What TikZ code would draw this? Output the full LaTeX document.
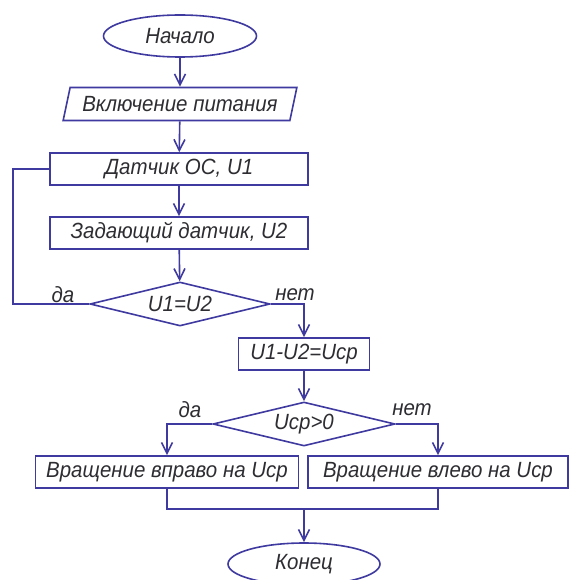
\documentclass[tikz,border=0pt]{standalone}
\usepackage{fontspec}
\setmainfont{Liberation Sans}[FakeStretch=0.93]
\usetikzlibrary{shapes.geometric,arrows.meta}
\definecolor{linecol}{RGB}{62,58,160}
\definecolor{textcol}{RGB}{45,45,50}
\begin{document}
\begin{tikzpicture}[x=1pt,y=-1pt]
    % Define styles
    \tikzstyle{every node} = [text=textcol, font=\fontsize{22}{25}\selectfont\itshape]
    \tikzstyle{terminal} = [ellipse, draw=linecol, line width=1.6pt, minimum width=153pt, minimum height=42pt, inner sep=0pt]
    \tikzstyle{io} = [trapezium, trapezium left angle=68, trapezium right angle=112, trapezium stretches=true,
                      draw=linecol, line width=1.6pt, minimum width=234pt, minimum height=33pt, inner sep=0pt]
    \tikzstyle{process} = [rectangle, draw=linecol, line width=1.6pt, minimum height=32pt, inner sep=0pt]
    \tikzstyle{decision} = [diamond, draw=linecol, line width=1.6pt, minimum width=180pt, minimum height=44pt, inner sep=0pt, aspect=4]
    \tikzstyle{line} = [draw=linecol, line width=1.6pt]
    \tikzstyle{arrow} = [line, -{Straight Barb[length=11pt,width=11pt]}]

    \fill[white] (0,0) rectangle (570,580);
    \clip (0,0) rectangle (570,580);

    % Nodes positioned absolutely
    \node[terminal] (start) at (180,36) {Начало};
    \node[io] (power) at (180,104) {Включение питания};
    \node[process, minimum width=258pt] (fbsensor) at (179,169) {Датчик ОС, U1};
    \node[process, minimum width=258pt] (refsensor) at (179,233) {Задающий датчик, U2};
    \node[decision] (equal) at (180,304) {U1=U2};
    \node[process, minimum width=131pt] (diff) at (304,354) {U1-U2=Ucp};
    \node[decision, minimum width=182pt] (sign) at (304,424) {Ucp>0};
    \node[process, minimum width=263pt] (right) at (167,472) {Вращение вправо на Ucp};
    \node[process, minimum width=260pt] (left) at (438,472) {Вращение влево на Ucp};
    \node[terminal, minimum width=152pt] (stop) at (304,564) {Конец};
    \coordinate (join) at (304,509);

    % Arrows
    \draw[arrow] (start) -- (power);
    \draw[arrow] (power) -- (fbsensor);
    \draw[arrow] (fbsensor) -- (refsensor);
    \draw[arrow] (refsensor) -- (equal);
    \draw[line] (equal.west) -- ++(-76,0) |- (fbsensor.west);
    \draw[arrow] (equal.east) -| (diff.north);
    \draw[arrow] (diff) -- (sign);
    \draw[arrow] (sign.west) -| (right.north);
    \draw[arrow] (sign.east) -| (left.north);
    \draw[line] (right.south) |- (join) -| (left.south);
    \draw[arrow] (join) -- (stop);

    % Branch labels
    \node (yes1) at (63,295) {да};
    \node (no1) at (295,295) {нет};
    \node (yes2) at (190,410) {да};
    \node (no2) at (412,410) {нет};
\end{tikzpicture}
\end{document}
